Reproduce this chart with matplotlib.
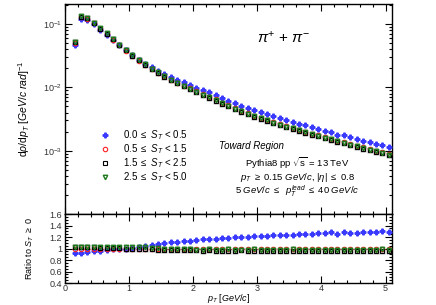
import matplotlib
matplotlib.use("Agg")
import matplotlib.pyplot as plt
from matplotlib.ticker import MultipleLocator, LogLocator, NullFormatter, FormatStrFormatter

plt.rcParams['font.family'] = ['Liberation Sans', 'DejaVu Sans']
plt.rcParams['mathtext.fontset'] = 'custom'
plt.rcParams['mathtext.rm'] = 'Liberation Sans'
plt.rcParams['mathtext.it'] = 'Liberation Sans:italic'
plt.rcParams['mathtext.bf'] = 'Liberation Sans:bold'

# pT bin centres [GeV/c]
pt = [0.15, 0.25, 0.35, 0.45, 0.55, 0.65, 0.75, 0.85, 0.95, 1.05,
      1.15, 1.25, 1.35, 1.45, 1.55, 1.65, 1.75, 1.85, 1.95, 2.05,
      2.15, 2.25, 2.35, 2.45, 2.55, 2.65, 2.75, 2.85, 2.95, 3.05,
      3.15, 3.25, 3.35, 3.45, 3.55, 3.65, 3.75, 3.85, 3.95, 4.05,
      4.15, 4.25, 4.35, 4.45, 4.55, 4.65, 4.75, 4.85, 4.95, 5.05]

# spectra, toward region, per S_T class
spec_st0 = [0.0474, 0.119, 0.114, 0.0984, 0.0811, 0.0678, 0.0557, 0.0458, 0.0382, 0.0321,
            0.0274, 0.0237, 0.0206, 0.0184, 0.0165, 0.0148, 0.0133, 0.0121, 0.01094, 0.00995,
            0.00907, 0.00831, 0.00758, 0.00681, 0.00619, 0.00562, 0.00516, 0.00473, 0.00436, 0.00404,
            0.00375, 0.00349, 0.00326, 0.00305, 0.00285, 0.00268, 0.00251, 0.00236, 0.00221, 0.00208,
            0.00199, 0.00180, 0.00175, 0.00163, 0.00153, 0.00145, 0.00136, 0.00129, 0.00124, 0.00115]
spec_st1 = [0.0510, 0.1267, 0.1210, 0.1030, 0.0832, 0.0695, 0.0565, 0.0460, 0.0378, 0.0318,
            0.0264, 0.0228, 0.0192, 0.0170, 0.0149, 0.0133, 0.0119, 0.0106, 0.00960, 0.00865,
            0.00774, 0.00710, 0.00645, 0.00569, 0.00520, 0.00470, 0.00428, 0.00387, 0.00359, 0.00331,
            0.00306, 0.00284, 0.00261, 0.00246, 0.00229, 0.00214, 0.00200, 0.00185, 0.00175, 0.00164,
            0.00154, 0.00144, 0.00136, 0.00127, 0.00120, 0.00113, 0.00106, 0.00100, 0.000945, 0.000890]
spec_st2 = [0.0525, 0.1306, 0.1234, 0.1051, 0.0848, 0.0702, 0.0571, 0.0465, 0.0382, 0.0318,
            0.0267, 0.0228, 0.0192, 0.01666, 0.0147, 0.01303, 0.01154, 0.01038, 0.00931, 0.00839,
            0.00751, 0.00689, 0.00619, 0.00552, 0.00499, 0.00451, 0.00415, 0.00375, 0.00345, 0.00318,
            0.00294, 0.00273, 0.00253, 0.00236, 0.00220, 0.00203, 0.00192, 0.00180, 0.00168, 0.00157,
            0.00148, 0.00137, 0.00131, 0.00123, 0.00115, 0.00108, 0.00102, 0.00096, 0.000907, 0.000854]
spec_st3 = [0.0525, 0.1318, 0.1234, 0.1051, 0.0857, 0.0709, 0.0576, 0.0469, 0.0393, 0.0328,
            0.0272, 0.0233, 0.0196, 0.0172, 0.0150, 0.0133, 0.01178, 0.01059, 0.00950, 0.00848,
            0.00766, 0.00703, 0.00632, 0.00564, 0.00515, 0.00461, 0.00419, 0.00383, 0.00355, 0.00324,
            0.00300, 0.00278, 0.00259, 0.00241, 0.00227, 0.00210, 0.00196, 0.00183, 0.00170, 0.00161,
            0.00151, 0.00141, 0.00133, 0.00125, 0.00118, 0.00111, 0.00104, 0.00098, 0.000936, 0.000872]

# ratios to S_T >= 0
ratio_st0 = [0.93, 0.93, 0.945, 0.955, 0.965, 0.975, 0.985, 0.995, 1.0, 1.01,
             1.025, 1.04, 1.06, 1.08, 1.10, 1.11, 1.12, 1.13, 1.14, 1.15,
             1.16, 1.17, 1.175, 1.185, 1.19, 1.195, 1.205, 1.21, 1.215, 1.22,
             1.225, 1.23, 1.235, 1.24, 1.245, 1.25, 1.255, 1.26, 1.265, 1.27,
             1.29, 1.25, 1.285, 1.275, 1.275, 1.28, 1.28, 1.29, 1.31, 1.29]
ratio_st1 = [1.00, 0.99, 1.00, 1.00, 0.99, 1.00, 1.00, 1.00, 0.99, 1.00,
             0.99, 1.00, 0.99, 1.00, 0.99, 1.00, 1.00, 0.99, 1.00, 1.00,
             0.99, 1.00, 1.00, 0.99, 1.00, 1.00, 1.00, 0.99, 1.00, 1.00,
             1.00, 1.00, 0.99, 1.00, 1.00, 1.00, 1.00, 0.99, 1.00, 1.00,
             1.00, 1.00, 1.00, 0.99, 1.00, 1.00, 1.00, 1.00, 1.00, 1.00]
ratio_st2 = [1.03, 1.02, 1.02, 1.02, 1.01, 1.01, 1.01, 1.01, 1.00, 1.00,
             1.00, 1.00, 0.99, 0.98, 0.98, 0.98, 0.97, 0.97, 0.97, 0.97,
             0.96, 0.97, 0.96, 0.96, 0.96, 0.96, 0.97, 0.96, 0.96, 0.96,
             0.96, 0.96, 0.96, 0.96, 0.96, 0.95, 0.96, 0.96, 0.96, 0.96,
             0.96, 0.95, 0.96, 0.96, 0.96, 0.96, 0.96, 0.96, 0.96, 0.96]
ratio_st3 = [1.03, 1.03, 1.02, 1.02, 1.02, 1.02, 1.02, 1.02, 1.03, 1.03,
             1.02, 1.02, 1.01, 1.01, 1.00, 1.00, 0.99, 0.99, 0.99, 0.98,
             0.98, 0.99, 0.98, 0.98, 0.99, 0.98, 0.98, 0.98, 0.99, 0.98,
             0.98, 0.98, 0.98, 0.98, 0.99, 0.98, 0.98, 0.98, 0.97, 0.98,
             0.98, 0.98, 0.98, 0.98, 0.98, 0.98, 0.98, 0.98, 0.99, 0.98]

labels = [r'0.0 $\leq$ $S_{T}$ < 0.5', r'0.5 $\leq$ $S_{T}$ < 1.5',
          r'1.5 $\leq$ $S_{T}$ < 2.5', r'2.5 $\leq$ $S_{T}$ < 5.0']

blue = '#3a3aff'
red = '#ff2020'
green = '#1e7a1e'

fig = plt.figure(figsize=(4.36, 3.05), dpi=100)
ax = fig.add_axes([0.149, 0.298, 0.750, 0.689])
axr = fig.add_axes([0.149, 0.072, 0.750, 0.226], sharex=ax)

# grey shadow boxes behind the overlapping points
ax.plot(pt, spec_st2, ls='none', marker='s', ms=5, mfc='#bbbbbb', mec='none', zorder=1)
ax.plot(pt, spec_st0, ls='none', marker='P', ms=3.4, color=blue, mec=blue, label=labels[0], zorder=3)
ax.plot(pt, spec_st1, ls='none', marker='o', ms=3.2, mfc='none', mec=red, mew=0.8, label=labels[1], zorder=3)
ax.plot(pt, spec_st2, ls='none', marker='s', ms=3.5, mfc='none', mec='black', mew=0.8, label=labels[2], zorder=3)
ax.plot(pt, spec_st3, ls='none', marker='v', ms=3.2, mfc='none', mec=green, mew=1.0, label=labels[3], zorder=4)

ax.set_yscale('log')
ax.set_ylim(1.0e-4, 0.207)
ax.set_xlim(0, 5.1)
ax.set_ylabel(r'd$\rho$/d$p_{T}$ [$GeV/c$ $rad$]$^{-1}$', fontsize=7.5, labelpad=8)
ax.yaxis.set_minor_locator(LogLocator(base=10, subs=range(2, 10), numticks=20))
ax.yaxis.set_minor_formatter(NullFormatter())
# no 1e-4 label, it would sit on the ratio panel
ax.set_yticks([1e-3, 1e-2, 1e-1])
ax.set_yticklabels([r'$10^{-3}$', r'$10^{-2}$', r'$10^{-1}$'])

leg = ax.legend(loc='upper left', bbox_to_anchor=(0.085, 0.44), frameon=False, fontsize=7,
                handletextpad=1.2, labelspacing=0.02, handlelength=1.2, borderpad=0.2)

ax.text(0.67, 0.84, r'$\pi^{+}$ + $\pi^{-}$', transform=ax.transAxes, fontsize=11, ha='center', va='center')
ax.text(0.47, 0.325, 'Toward Region', transform=ax.transAxes, fontsize=7, style='italic', ha='left', va='center')
ax.text(0.71, 0.240, r'Pythia8 pp $\sqrt{\mathrm{s}}$ = 13 TeV', transform=ax.transAxes, fontsize=6.8, ha='center', va='center')
ax.text(0.71, 0.176, r'$p_{T}$ $\geq$ 0.15 $GeV/c$, |$\eta$| $\leq$ 0.8', transform=ax.transAxes, fontsize=6.8, ha='center', va='center')
ax.text(0.71, 0.110, r'5 $GeV/c$ $\leq$  $p_{T}^{lead}$ $\leq$ 40 $GeV/c$', transform=ax.transAxes, fontsize=6.8, ha='center', va='center')

# ratio panel
axr.axhline(1.0, color='black', lw=0.6, ls='--', zorder=1)
axr.plot(pt, ratio_st2, ls='none', marker='s', ms=5, mfc='#bbbbbb', mec='none', zorder=1)
axr.plot(pt, ratio_st0, ls='none', marker='P', ms=3.4, color=blue, mec=blue, zorder=3)
axr.plot(pt, ratio_st1, ls='none', marker='o', ms=3.2, mfc='none', mec=red, mew=0.8, zorder=3)
axr.plot(pt, ratio_st2, ls='none', marker='s', ms=3.5, mfc='none', mec='black', mew=0.8, zorder=3)
axr.plot(pt, ratio_st3, ls='none', marker='v', ms=3.2, mfc='none', mec=green, mew=1.0, zorder=4)

axr.set_ylim(0.4, 1.6)
axr.set_xlim(0, 5.1)
axr.yaxis.set_major_locator(MultipleLocator(0.2))
axr.yaxis.set_minor_locator(MultipleLocator(0.05))
axr.yaxis.set_major_formatter(FormatStrFormatter('%g'))
axr.xaxis.set_major_locator(MultipleLocator(1))
axr.xaxis.set_minor_locator(MultipleLocator(0.2))
axr.set_xlabel(r'$p_{T}$ [$GeV/c$]', fontsize=6.5, labelpad=-1)
axr.set_ylabel(r'Ratio to $S_{T}$ $\geq$ 0', fontsize=6.5, labelpad=10)

for a in (ax, axr):
    a.tick_params(which='both', direction='in', top=True, right=True, labelsize=6.5, colors='black',
                  labelcolor='#333333', width=0.8, pad=2)
    a.tick_params(which='major', length=5)
    a.tick_params(which='minor', length=2.5)
    for s in a.spines.values():
        s.set_linewidth(1.0)
axr.tick_params(axis='x', which='both', pad=1)
plt.setp(ax.get_xticklabels(), visible=False)

fig.savefig('out.png', dpi=100)
